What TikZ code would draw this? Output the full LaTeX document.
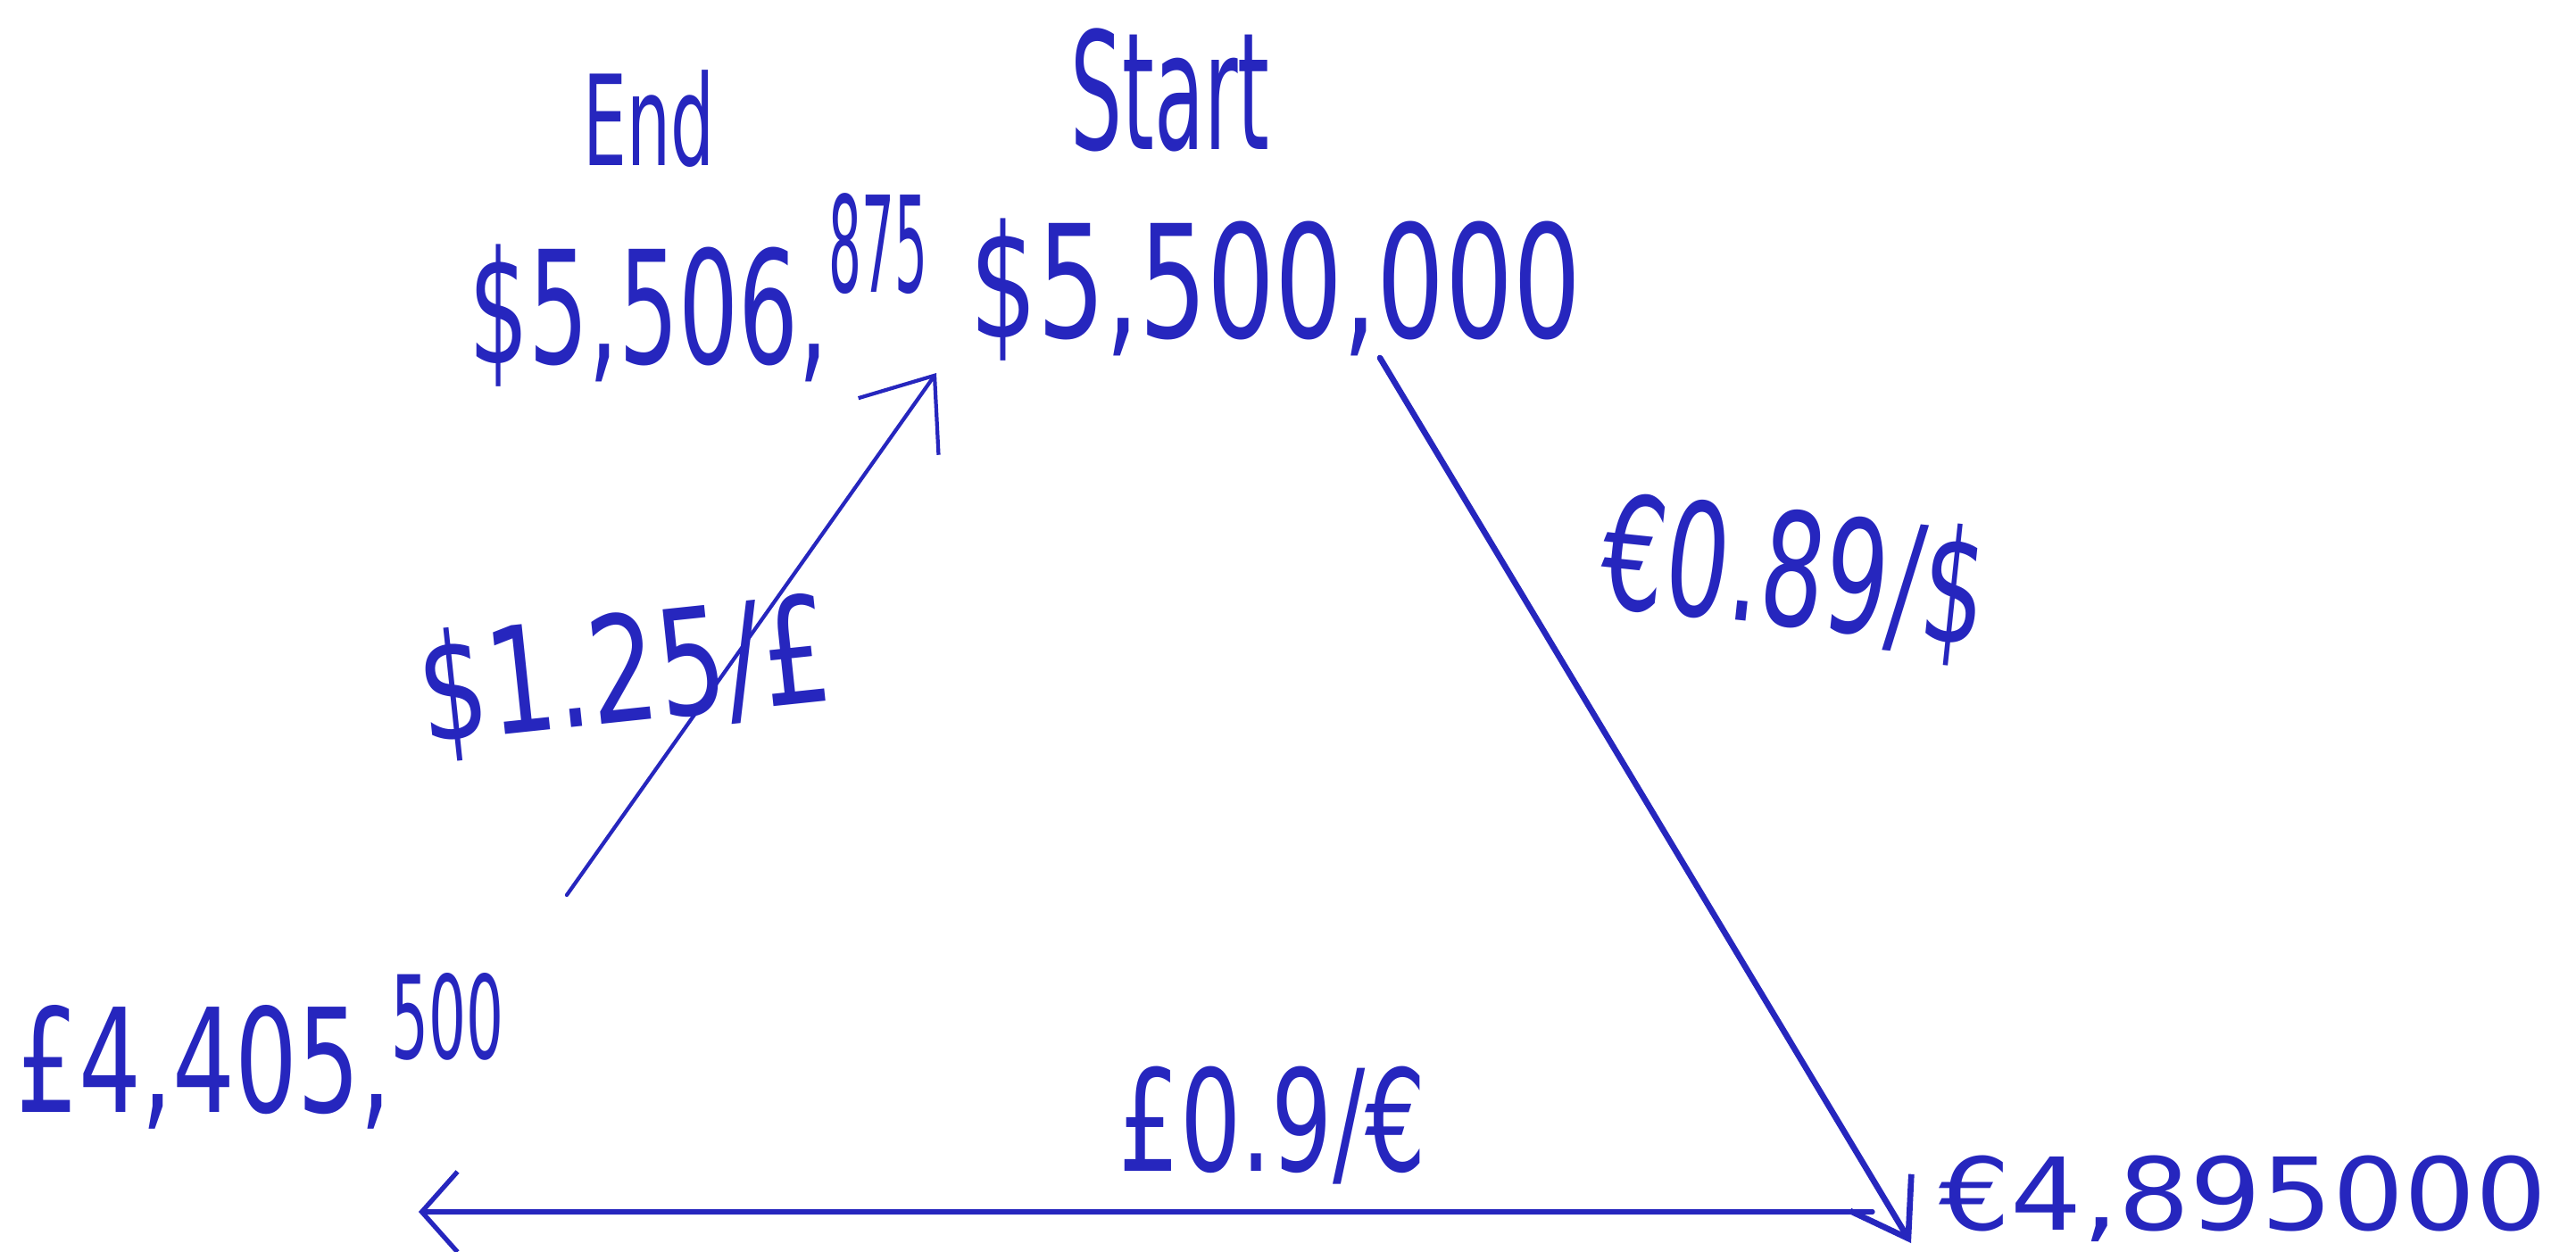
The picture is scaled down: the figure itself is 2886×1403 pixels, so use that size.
\documentclass[tikz,border=0pt]{standalone}
\usepackage{fontspec}
\usetikzlibrary{arrows.meta}
\newfontfamily\hand{DejaVu Sans}
\definecolor{ink}{RGB}{38,38,190}
\newcommand{\hw}[3]{\fontsize{#1}{#1}\selectfont\scalebox{#2}[1]{#3}}
\begin{document}
\begin{tikzpicture}[x=0.01cm,y=-0.01cm,
  lbl/.style={inner sep=0pt, text=ink, font=\hand},
  conn/.style={draw=ink, line cap=round, line join=round}
]
\useasboundingbox[fill=white] (0,0) rectangle (2886,1403);

% labels
\node[lbl] (endlbl) at (727,133) {\hw{40}{0.55}{End}};
\node[lbl] (startlbl) at (1311,101) {\hw{52}{0.5}{Start}};
\node[lbl, anchor=west] (usdend) at (525,325) {\hw{50}{0.6}{\$5,506,\raisebox{23pt}{\scalebox{0.55}[0.85]{875}}}};
\node[lbl, anchor=west] (usdstart) at (1086,325) {\hw{50}{0.68}{\$5,500,000}};
\node[lbl, anchor=west] (gbp) at (18,1178) {\hw{46}{0.68}{£4,405,\raisebox{17pt}{\scalebox{0.6}[0.8]{500}}}};
\node[lbl, anchor=west] (eur) at (2172,1343) {\hw{32}{1.12}{€4,895000}};

% rates
\node[lbl, rotate=6] (r1) at (700,758) {\hw{47}{0.73}{\$1.25/£}};
\node[lbl, rotate=-6] (r2) at (2010,648) {\hw{50}{0.64}{€0.89/\$}};
\node[lbl] (r3) at (1426,1261) {\hw{45}{0.68}{£0.9/€}};

% connector ends
\coordinate (a1s) at (635,1003);
\coordinate (a1e) at (1049,418);
\coordinate (a2s) at (1546,401);
\coordinate (a2e) at (2141,1393);
\coordinate (a3s) at (2098,1358);
\coordinate (a3e) at (469,1358);

\draw[conn, line width=1.2pt, -{Straight Barb[length=7mm,width=11mm]}] (a1s) -- (a1e);
\draw[conn, line width=1.9pt, -{Straight Barb[length=6mm,width=8mm]}] (a2s) -- (a2e);
\draw[conn, line width=1.5pt, -{Straight Barb[length=4mm,width=9mm]}] (a3s) -- (a3e);
\end{tikzpicture}
\end{document}
